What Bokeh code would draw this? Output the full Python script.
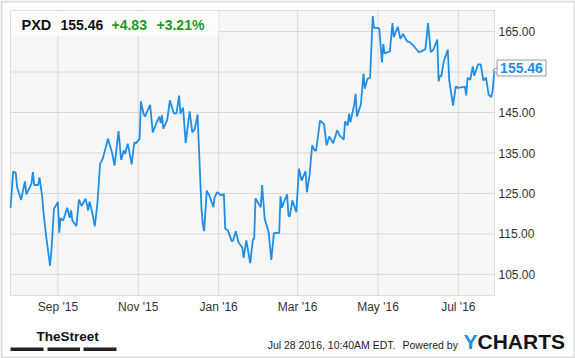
import math
import pandas as pd
from bokeh.plotting import figure
from bokeh.models import (Range1d, FixedTicker, DatetimeTickFormatter, NumeralTickFormatter,
                          BoxAnnotation, Label, ColumnDataSource)
from bokeh.embed import file_html
from bokeh.resources import INLINE

# ---- data ----
dates = [
    "2015-07-27", "2015-07-29", "2015-07-31", "2015-08-01", "2015-08-04", "2015-08-07", "2015-08-08",
    "2015-08-12", "2015-08-13", "2015-08-14", "2015-08-17", "2015-08-18", "2015-08-20", "2015-08-21",
    "2015-08-23", "2015-08-26", "2015-08-27", "2015-08-29", "2015-09-01", "2015-09-02", "2015-09-03",
    "2015-09-05", "2015-09-08", "2015-09-10", "2015-09-11", "2015-09-12", "2015-09-15", "2015-09-17",
    "2015-09-19", "2015-09-22", "2015-09-24", "2015-09-25", "2015-09-27", "2015-09-29", "2015-10-01",
    "2015-10-03", "2015-10-05", "2015-10-07", "2015-10-09", "2015-10-12", "2015-10-14", "2015-10-17",
    "2015-10-19", "2015-10-21", "2015-10-22", "2015-10-24", "2015-10-27", "2015-10-29", "2015-10-30",
    "2015-11-02", "2015-11-03", "2015-11-05", "2015-11-06", "2015-11-10", "2015-11-12", "2015-11-15",
    "2015-11-17", "2015-11-18", "2015-11-19", "2015-11-20", "2015-11-23", "2015-11-25", "2015-11-28",
    "2015-11-30", "2015-12-02", "2015-12-03", "2015-12-05", "2015-12-07", "2015-12-10", "2015-12-12",
    "2015-12-14", "2015-12-16", "2015-12-19", "2015-12-20", "2015-12-21", "2015-12-23", "2015-12-25",
    "2015-12-28", "2015-12-29", "2015-12-31", "2016-01-03", "2016-01-05", "2016-01-06", "2016-01-08",
    "2016-01-11", "2016-01-12", "2016-01-14", "2016-01-16", "2016-01-19", "2016-01-20", "2016-01-22",
    "2016-01-25", "2016-01-27", "2016-01-28", "2016-01-29", "2016-02-02", "2016-02-03", "2016-02-05",
    "2016-02-08", "2016-02-10", "2016-02-12", "2016-02-16", "2016-02-17", "2016-02-18", "2016-02-22",
    "2016-02-23", "2016-02-24", "2016-02-26", "2016-02-29", "2016-03-02", "2016-03-04", "2016-03-07",
    "2016-03-08", "2016-03-10", "2016-03-12", "2016-03-14", "2016-03-15", "2016-03-18", "2016-03-21",
    "2016-03-23", "2016-03-25", "2016-03-28", "2016-03-31", "2016-04-02", "2016-04-05", "2016-04-06",
    "2016-04-08", "2016-04-09", "2016-04-10", "2016-04-13", "2016-04-14", "2016-04-15", "2016-04-18",
    "2016-04-20", "2016-04-21", "2016-04-23", "2016-04-25", "2016-04-27", "2016-04-28", "2016-05-01",
    "2016-05-02", "2016-05-04", "2016-05-05", "2016-05-06", "2016-05-10", "2016-05-12", "2016-05-13",
    "2016-05-16", "2016-05-18", "2016-05-20", "2016-05-23", "2016-05-25", "2016-05-28", "2016-06-01",
    "2016-06-03", "2016-06-06", "2016-06-08", "2016-06-10", "2016-06-12", "2016-06-15", "2016-06-16",
    "2016-06-17", "2016-06-18", "2016-06-20", "2016-06-23", "2016-06-24", "2016-06-27", "2016-06-29",
    "2016-07-01", "2016-07-06", "2016-07-07", "2016-07-08", "2016-07-10", "2016-07-12", "2016-07-13",
    "2016-07-16", "2016-07-18", "2016-07-20", "2016-07-22", "2016-07-24", "2016-07-26", "2016-07-27",
    "2016-07-28 10:40",
]
prices = [
    121.4, 130.4, 130.1, 126.6, 123.4, 128.0, 124.8,
    127.5, 130.3, 127.1, 127.1, 129.0, 124.5, 120.4,
    114.6, 107.2, 110.5, 121.2, 122.9, 115.3, 118.9,
    118.3, 121.5, 119.0, 120.8, 118.3, 116.9, 123.5,
    121.9, 123.7, 120.8, 123.0, 120.4, 116.9, 122.6,
    132.3, 133.6, 136.0, 138.5, 135.2, 131.9, 140.4,
    133.3, 135.6, 134.8, 137.3, 132.2, 137.7, 137.3,
    138.5, 147.8, 144.7, 144.0, 146.9, 140.1, 142.6,
    144.0, 142.4, 144.3, 141.0, 143.2, 148.0, 144.8,
    144.8, 149.2, 144.7, 146.2, 137.5, 145.3, 140.1,
    141.0, 144.5, 121.2, 117.5, 115.7, 125.7, 124.5,
    121.6, 124.1, 125.3, 124.5, 124.9, 116.3, 115.9,
    113.2, 113.4, 115.7, 113.0, 111.6, 109.1, 113.4,
    107.8, 113.6, 113.8, 123.8, 121.6, 127.1, 118.7,
    115.4, 108.6, 115.2, 115.3, 124.3, 121.5, 124.8,
    119.6, 119.3, 123.3, 120.4, 131.1, 128.2, 130.5,
    125.3, 129.4, 136.9, 135.6, 135.6, 143.0, 142.2,
    136.9, 139.1, 137.4, 140.6, 139.3, 138.3, 142.8,
    141.8, 144.7, 142.6, 147.0, 149.6, 144.0, 147.0,
    154.6, 150.9, 153.3, 153.6, 168.8, 165.9, 165.9,
    165.7, 157.4, 161.9, 159.6, 160.1, 167.1, 163.6,
    166.2, 163.2, 164.4, 162.6, 162.4, 161.5, 159.9,
    160.1, 160.7, 167.1, 159.9, 160.5, 163.0, 152.7,
    154.1, 153.9, 157.7, 160.5, 153.1, 146.7, 151.4,
    151.1, 151.4, 149.2, 153.6, 153.1, 156.4, 154.1,
    156.9, 156.9, 152.9, 153.6, 149.4, 148.8, 150.4,
    155.46,
]
y_ticks = [105, 115, 125, 135, 145, 155, 165]
y_label_ticks = [105, 115, 125, 135, 145, 165]
x_tick_dates = ["2015-09-01", "2015-11-01", "2016-01-01", "2016-03-01", "2016-05-01", "2016-07-01"]
x_start, x_end = "2015-07-27", "2016-07-28 10:40"
y_start, y_end = 99.8, 170.2
ticker_symbol = "PXD"
last_price = "155.46"
change_abs = "+4.83"
change_pct = "+3.21%"
timestamp = "Jul 28 2016, 10:40AM EDT."

# ---- layout (pixels) ----
W, H = 575, 358
PL, PR, PT, PB = 10, 494, 10, 295   # plot-area edges inside the canvas

FONT = "Liberation Sans"
BLUE = "#1e8ee8"
GREEN = "#1d9a1d"

xs_ms = pd.Timestamp(x_start).value / 1e6
xe_ms = pd.Timestamp(x_end).value / 1e6
xspan = xe_ms - xs_ms
yspan = y_end - y_start
ms_per_px = xspan / (PR - PL)
# the frame spans the whole canvas; extend the ranges so the plot area sits at PL..PR / PT..PB
x_full = Range1d(xs_ms - ms_per_px * PL, xe_ms + ms_per_px * (W - PR))
y_full = Range1d(y_start - yspan * (H - PB) / (PB - PT), y_end + yspan * PT / (PB - PT))

src = ColumnDataSource(dict(date=pd.to_datetime(dates, format="mixed"), price=prices))

p = figure(width=W, height=H, x_axis_type="datetime", y_axis_location="right",
           output_backend="svg", toolbar_location=None, title=None,
           min_border=0, min_border_left=0, min_border_right=0,
           min_border_top=0, min_border_bottom=0,
           background_fill_color="white", border_fill_color="white",
           x_range=x_full, y_range=y_full)
p.outline_line_color = None
p.grid.visible = False

# plot-area background
p.add_layout(BoxAnnotation(left=xs_ms, right=xe_ms, bottom=y_start, top=y_end,
                           fill_color="#f6f6f6", fill_alpha=1, line_alpha=0, level="underlay"))

x_ticks_ms = [pd.Timestamp(d).value / 1e6 for d in x_tick_dates]
hgrid = ColumnDataSource(dict(x0=[xs_ms] * len(y_ticks), x1=[xe_ms] * len(y_ticks),
                              y=y_ticks))
vgrid = ColumnDataSource(dict(x=x_ticks_ms, y0=[y_start] * len(x_ticks_ms),
                              y1=[y_end] * len(x_ticks_ms)))
p.segment(x0="x0", x1="x1", y0="y", y1="y", source=hgrid, line_color="#d9d9d9", line_width=1)
p.segment(x0="x", x1="x", y0="y0", y1="y1", source=vgrid, line_color="#d9d9d9", line_width=1)

p.line(x="date", y="price", source=src, line_color=BLUE, line_width=1.8)

# pointer of the last-price tag, at the last point
p.scatter(x=[xe_ms + 3.2 * ms_per_px], y=[prices[-1]], marker="triangle", size=9,
          angle=math.pi / 2, fill_color="white", line_color="#9a9a9a", line_width=1)

# plot-area outline
p.add_layout(BoxAnnotation(left=xs_ms, right=xe_ms, bottom=y_start, top=y_end,
                           fill_alpha=0, line_color="#a0a0a0", line_width=1))

# axes drawn at the plot-area edges
p.xaxis.ticker = FixedTicker(ticks=x_ticks_ms)
fmt = "%b '%y"
p.xaxis.formatter = DatetimeTickFormatter(years=fmt, months=fmt, days=fmt, hours=fmt,
                                          hourmin=fmt, minutes=fmt, minsec=fmt,
                                          seconds=fmt, milliseconds=fmt, microseconds=fmt)
p.xaxis.fixed_location = y_start
p.yaxis.ticker = FixedTicker(ticks=y_label_ticks)
p.yaxis.formatter = NumeralTickFormatter(format="0.00")
p.yaxis.fixed_location = xe_ms

for ax in (p.xaxis, p.yaxis):
    ax.axis_line_color = None
    ax.major_tick_line_color = None
    ax.minor_tick_line_color = None
    ax.major_tick_in = 0
    ax.major_tick_out = 0
    ax.major_label_standoff = 4
    ax.major_label_text_font = FONT
    ax.major_label_text_font_size = "12px"
    ax.major_label_text_color = "#333333"

def box(l, r, t, b, **kw):
    p.add_layout(BoxAnnotation(left=l, right=r, top=t, bottom=b,
                               left_units="canvas", right_units="canvas",
                               top_units="canvas", bottom_units="canvas", **kw))

def lab(x, y, text, size, color, style="normal", font=FONT, align="left", **kw):
    lbl = Label(x=x, y=y, x_units="canvas", y_units="canvas", text=text,
                text_font=font, text_font_size=size, text_color=color,
                text_font_style=style, text_align=align, text_baseline="middle", **kw)
    p.add_layout(lbl)
    return lbl

# header box
box(PL + 0.5, 218, PT + 0.5, 36, fill_color="white", fill_alpha=0.8, line_alpha=0)
lab(21, 24, ticker_symbol, "14.5px", "#111111", "bold")
lab(60, 24, last_price, "14px", "#111111", "bold")
lab(111, 24, change_abs, "14px", GREEN, "bold")
lab(156, 24, change_pct, "14px", GREEN, "bold")

# last price tag
tag = lab(521, 67.5, last_price, "14px", BLUE, "bold", align="center",
          background_fill_color="white", background_fill_alpha=1,
          border_line_color="#9a9a9a", border_line_width=1)
try:
    tag.padding = 3
except Exception:
    pass

# footer
lab(36, 336, "TheStreet", "13.5px", "#111111", "bold")
for l, r in [(10, 43), (47, 79.5), (83, 116)]:
    box(l, r, 347, 350.5, fill_color="#222222", fill_alpha=1, line_alpha=0)
lab(395, 344.5, timestamp, "10.5px", "#222222", align="right")
lab(402, 344.5, "Powered by", "10.5px", "#222222")
lab(463, 341, "Y", "21px", BLUE, "bold")
lab(477, 341, "CHARTS", "21px", "#141414", "bold")

# outer border
box(1, 574, 1, 357, fill_alpha=0, line_color="#8c8c8c", line_width=2)

open("out.html", "w").write(file_html(p, INLINE))
